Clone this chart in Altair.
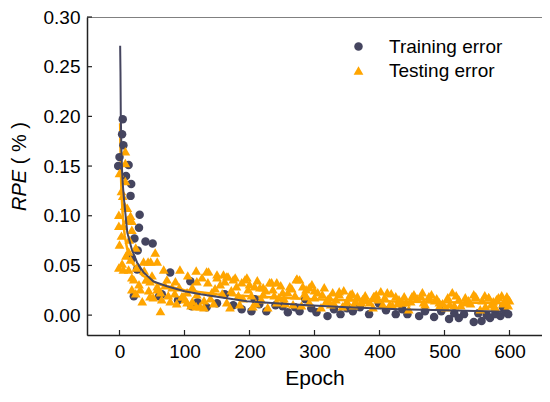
import altair as alt
import pandas as pd

# ---- data ----
train_epoch = [-2, 0, 4, 5, 6, 10, 14, 17, 18, 19, 22, 23, 27, 28, 30, 31, 40, 51, 61, 65,
               78, 90, 109, 111, 120, 134, 150, 162, 175, 188, 203, 208, 215, 226, 240, 251,
               259, 270, 277, 286, 295, 303, 320, 330, 340, 350, 359, 370, 384, 399, 410, 425,
               435, 443, 461, 470, 484, 495, 507, 515, 522, 530, 545, 552, 557, 565, 570, 578,
               586, 590, 594, 598]
train_value = [0.150, 0.159, 0.182, 0.197, 0.171, 0.140, 0.151, 0.120, 0.132, 0.057, 0.019, 0.077,
               0.046, 0.065, 0.088, 0.101, 0.074, 0.072, 0.019, 0.021, 0.043, 0.015, 0.034, 0.009,
               0.013, 0.008, 0.012, 0.021, 0.010, 0.006, 0.004, 0.016, 0.011, 0.004, 0.010, 0.009,
               0.003, 0.008, 0.004, 0.016, 0.007, 0.003, -0.001, 0.006, 0.001, 0.007, 0.004, 0.008,
               0.001, 0.012, 0.005, 0.001, 0.006, 0.001, -0.001, 0.004, -0.002, 0.004, -0.004, 0.002,
               -0.003, 0.001, -0.007, 0.002, -0.006, 0.000, -0.003, 0.001, -0.001, 0.008, 0.003, 0.001]

test_epoch = [9, 9, 0, 9, 3, 12, -1, 17, 19, -1, 12, 19, 0, 15, 25, 14, 17, -1, 6, 14,
              26, 19, 19, 32, 35, 47, 55, 44, 58, 42, 63, 68, 73, 58, 63, 81, 93, 86, 96, 104,
              104, 118, 119, 119, 124, 134, 136, 142, 150, 155, 160, 167, 175, 165, 180, 193, 185, 198, 205, 216,
              221, 231, 236, 242, 251, 262, 273, 267, 282, 287, 137, 150, 165, 178, 196, 208, 221, 234, 242, 272,
              259, 287, 305, 320, 277, 292, 323, 338, 354, 366, 374, 392, 412, 425, 441, 453, 464, 476, 492, 512,
              522, 532, 548, 568, 583, 596, 563, 578, 502, 405, 343, 292, 328, 338, 355, 395, 391, 450, 466, 318,
              372, 435, 416, 476, 532, 548, 568, 596, 492, 508, 577, 110, 130, 145, 170, 190, 210, 228, 245, 255,
              280, 300, 310, 330, 350, 360, 380, 390, 420, 430, 445, 470, 485, 515, 540, 555, 575, 590, 600, 6,
              37, 48, 22, 41, 47, 58, 65, 52, 78, 101, 112, 118, 98, 130,
              105, 112, 127, 140, 147, 158, 162, 172, 183, 188, 200, 203, 212, 218, 225, 238, 248, 253, 265, 270,
              285, 296, 300, 312, 315, 325, 333, 345, 348, 358, 363, 378, 385, 398, 402, 408, 418, 428, 438, 448,
              458, 468, 480, 488, 497, 505, 518, 525, 537, 545, 558, 562, 572, 580, 588, 593, 598,
              5, 8, 3, 10, 4, 30, 25, 38, 50, 70, 85, 75, 88, 92, 45]
test_value = [0.165, 0.153, 0.143, 0.135, 0.125, 0.108, 0.101, 0.100, 0.095, 0.090, 0.096, 0.086, 0.071, 0.076, 0.068, 0.064, 0.056, 0.048, 0.046, 0.046,
              0.048, 0.038, 0.026, 0.026, 0.014, 0.019, 0.063, 0.054, 0.054, 0.036, 0.004, 0.046, 0.036, 0.029, 0.023, 0.028, 0.046, 0.034, 0.019, 0.023,
              0.013, 0.045, 0.034, 0.021, 0.009, 0.044, 0.033, 0.023, 0.038, 0.031, 0.041, 0.039, 0.036, 0.013, 0.029, 0.036, 0.011, 0.026, 0.009, 0.028,
              0.021, 0.033, 0.026, 0.013, 0.023, 0.029, 0.037, 0.011, 0.029, 0.019, 0.044, 0.041, 0.039, 0.038, 0.038, 0.029, 0.028, 0.033, 0.033, 0.036,
              0.023, 0.026, 0.023, 0.016, 0.036, 0.028, 0.018, 0.021, 0.018, 0.019, 0.016, 0.019, 0.023, 0.019, 0.013, 0.021, 0.019, 0.016, 0.009, 0.023,
              0.016, 0.013, 0.018, 0.018, 0.018, 0.018, 0.009, 0.008, 0.008, 0.011, 0.009, 0.013, 0.023, 0.024, 0.021, 0.021, 0.019, 0.019, 0.023, 0.014,
              0.013, 0.013, 0.011, 0.019, 0.018, 0.019, 0.018, 0.019, 0.013, 0.011, 0.009, 0.010, 0.015, 0.012, 0.008, 0.017, 0.012, 0.008, 0.018, 0.012,
              0.010, 0.018, 0.008, 0.012, 0.014, 0.010, 0.015, 0.008, 0.010, 0.016, 0.006, 0.011, 0.015, 0.010, 0.012, 0.006, 0.014, 0.012, 0.015, 0.090,
              0.054, 0.054, 0.036, 0.036, 0.034, 0.026, 0.016, 0.018, 0.014, 0.016, 0.014, 0.009, 0.019, 0.008,
              0.040, 0.028, 0.038, 0.017, 0.027, 0.022, 0.034, 0.025, 0.020, 0.033, 0.031, 0.020, 0.035, 0.016, 0.025, 0.020, 0.030, 0.017, 0.027, 0.020,
              0.022, 0.031, 0.025, 0.021, 0.028, 0.011, 0.016, 0.025, 0.012, 0.022, 0.014, 0.020, 0.013, 0.016, 0.024, 0.018, 0.022, 0.012, 0.019, 0.014,
              0.017, 0.013, 0.021, 0.017, 0.012, 0.018, 0.020, 0.010, 0.015, 0.021, 0.015, 0.020, 0.011, 0.016, 0.020, 0.014, 0.010,
              0.120, 0.110, 0.080, 0.060, 0.052, 0.031, 0.022, 0.045, 0.040, 0.030, 0.022, 0.020, 0.012, 0.028, 0.025]

train_fit_epoch = [1, 1.5, 2, 3, 4, 5, 7, 12, 19, 27, 37, 52, 73, 100, 125, 155, 196, 240, 290, 350, 430, 500, 594]
train_fit_value = [0.271, 0.245, 0.200, 0.165, 0.145, 0.132, 0.116, 0.083, 0.066, 0.053, 0.043, 0.034, 0.029,
                   0.024, 0.021, 0.018, 0.014, 0.012, 0.010, 0.008, 0.006, 0.005, 0.0035]
test_fit_epoch = [1, 1.5, 2, 3, 5, 8, 12, 20, 35, 60, 100, 150, 200, 300, 400, 500, 600]
test_fit_value = [0.193, 0.170, 0.150, 0.125, 0.100, 0.080, 0.066, 0.052, 0.040, 0.031, 0.025, 0.021,
                  0.019, 0.016, 0.014, 0.013, 0.012]

series_names = ["Training error", "Testing error"]
x_ticks = [0, 100, 200, 300, 400, 500, 600]
y_ticks = [0.00, 0.05, 0.10, 0.15, 0.20, 0.25, 0.30]

FONT = "Liberation Sans"
DARK = "#45455f"
ORANGE = "#ffa500"

pts = pd.concat([
    pd.DataFrame({"epoch": train_epoch, "value": train_value, "series": series_names[0]}),
    pd.DataFrame({"epoch": test_epoch, "value": test_value, "series": series_names[1]}),
], ignore_index=True)
train_fit = pd.DataFrame({"epoch": train_fit_epoch, "value": train_fit_value})
test_fit = pd.DataFrame({"epoch": test_fit_epoch, "value": test_fit_value})
xt = pd.DataFrame({"epoch": x_ticks})
yt = pd.DataFrame({"value": y_ticks})

W, H = 455, 318
xscale = alt.Scale(domain=[-50, 650], nice=False, zero=False)
yscale = alt.Scale(domain=[-0.02, 0.30], nice=False, zero=False)

leg = alt.Legend(title=None, orient="none", legendX=262, legendY=20,
                 symbolSize=55, labelOffset=21, rowPadding=4)

points = alt.Chart(pts).mark_point(filled=True, opacity=1, strokeWidth=0).encode(
    x=alt.X("epoch:Q", scale=xscale,
            axis=alt.Axis(values=x_ticks, title="Epoch", ticks=False, tickSize=0, grid=False,
                          labelPadding=7, titlePadding=6)),
    y=alt.Y("value:Q", scale=yscale,
            axis=alt.Axis(values=y_ticks, format=".2f", title=None, ticks=False, tickSize=0,
                          grid=False, labelPadding=7)),
    color=alt.Color("series:N", scale=alt.Scale(domain=series_names, range=[DARK, ORANGE]), legend=leg),
    shape=alt.Shape("series:N", scale=alt.Scale(domain=series_names, range=["circle", "triangle-up"]), legend=leg),
    size=alt.Size("series:N", scale=alt.Scale(domain=series_names, range=[72, 95]), legend=None),
)

test_line = alt.Chart(test_fit).mark_line(color=ORANGE, strokeWidth=2.5).encode(
    x=alt.X("epoch:Q", scale=xscale), y=alt.Y("value:Q", scale=yscale))
train_line = alt.Chart(train_fit).mark_line(color=DARK, strokeWidth=2).encode(
    x=alt.X("epoch:Q", scale=xscale), y=alt.Y("value:Q", scale=yscale))

xticks = alt.Chart(xt).mark_rule(color="#222", strokeWidth=1.2).encode(
    x=alt.X("epoch:Q", scale=xscale), y=alt.value(H), y2=alt.value(H - 5))
yticks = alt.Chart(yt).mark_rule(color="#222", strokeWidth=1.2).encode(
    y=alt.Y("value:Q", scale=yscale), x=alt.value(0), x2=alt.value(5))

t1 = alt.Chart(pd.DataFrame({"t": ["RPE"]})).mark_text(
    angle=270, align="left", baseline="alphabetic", font=FONT, fontSize=20, fontStyle="italic",
    color="black").encode(x=alt.value(-61), y=alt.value(194), text="t:N")
t2 = alt.Chart(pd.DataFrame({"t": ["( % )"]})).mark_text(
    angle=270, align="right", baseline="alphabetic", font=FONT, fontSize=20,
    color="black").encode(x=alt.value(-61), y=alt.value(105), text="t:N")

chart = alt.layer(test_line, points, train_line, xticks, yticks, t1, t2).properties(
    width=W, height=H,
    autosize=alt.AutoSizeParams(type="none"),
    padding={"left": 79, "top": 9, "right": 0, "bottom": 57},
).configure_view(stroke="#808080", strokeWidth=1).configure_axis(
    labelFont=FONT, labelFontSize=19, labelColor="black",
    titleFont=FONT, titleFontSize=21, titleFontWeight="normal", titleColor="black",
    domainColor="#222", domainWidth=1.5,
).configure_legend(labelFont=FONT, labelFontSize=19, labelColor="black", symbolStrokeWidth=0)

chart.save("out.html", embed_options={"renderer": "svg", "actions": False})
